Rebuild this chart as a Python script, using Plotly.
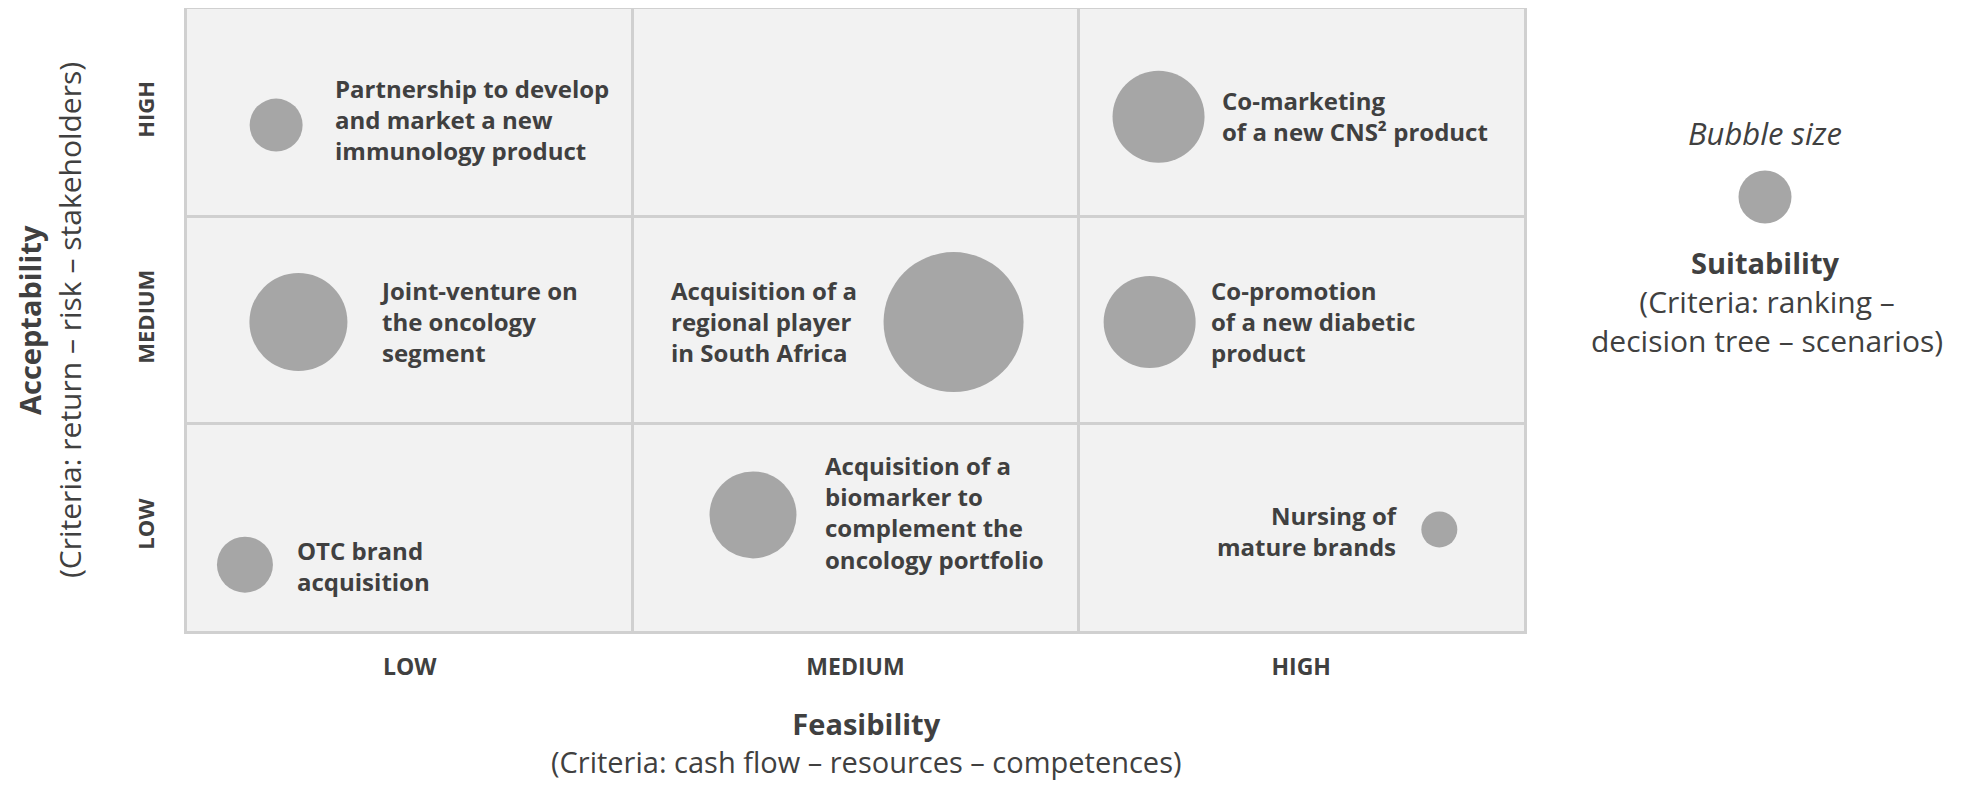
import plotly.graph_objects as go

# feasibility (x) / acceptability (y) on a 0-3 scale, bubble = suitability (diameter px)
projects = [
    "Partnership to develop<br>and market a new<br>immunology product",
    "Joint-venture on<br>the oncology<br>segment",
    "OTC brand<br>acquisition",
    "Acquisition of a<br>biomarker to<br>complement the<br>oncology portfolio",
    "Acquisition of a<br>regional player<br>in South Africa",
    "Co-marketing<br>of a new CNS² product",
    "Co-promotion<br>of a new diabetic<br>product",
    "Nursing of<br>mature brands",
]
feasibility = [0.20, 0.25, 0.13, 1.27, 1.72, 2.18, 2.16, 2.81]
acceptability = [2.44, 1.49, 0.32, 0.56, 1.49, 2.48, 1.49, 0.49]
suitability = [53, 98, 56, 87, 140, 92, 92, 36]

label_x = [0.328, 0.428, 0.243, 1.428, 1.082, 2.318, 2.294, 2.722]
label_y = [2.465, 1.495, 0.315, 0.57, 1.495, 2.485, 1.495, 0.48]
label_side = ["left", "left", "left", "left", "left", "left", "left", "right"]

levels = ["LOW", "MEDIUM", "HIGH"]
level_pos = [0.5, 1.5, 2.5]

legend_size = 53

FONT = "Open Sans, Noto Sans, sans-serif"
TEXT = "#404040"
BUBBLE = "#a6a6a6"
GRID = "#d0d0d0"

# page has an 8px body margin, so the figure is 16px smaller than the window
W, H = 1950, 774


def paper(px_x, px_y):
    # page pixel position -> paper fraction (margins are zero)
    return (px_x - 8) / W, (H + 8 - px_y) / H


fig = go.Figure()

# grid background
fig.add_shape(
    type="rect", x0=0, x1=3, y0=0, y1=3, xref="x", yref="y",
    fillcolor="#f2f2f2", line=dict(width=0), layer="below",
)

fig.add_trace(
    go.Scatter(
        x=feasibility,
        y=acceptability,
        mode="markers",
        marker=dict(
            size=suitability,
            sizemode="diameter",
            color=BUBBLE,
            opacity=1,
            line=dict(width=0),
        ),
        hovertext=[p.replace("<br>", " ") for p in projects],
        hoverinfo="text",
        showlegend=False,
    )
)

# legend bubble on the right, on its own small axes
fig.add_trace(
    go.Scatter(
        x=[0],
        y=[0],
        xaxis="x2",
        yaxis="y2",
        mode="markers",
        marker=dict(size=legend_size, color=BUBBLE, line=dict(width=0)),
        cliponaxis=False,
        hoverinfo="skip",
        showlegend=False,
    )
)

for txt, lx, ly, side in zip(projects, label_x, label_y, label_side):
    fig.add_annotation(
        x=lx, y=ly, xref="x", yref="y",
        text=txt, showarrow=False,
        xanchor=side, yanchor="middle", align=side,
        font=dict(family=FONT, size=24, color=TEXT, weight="bold"),
    )


def add_text(text, pos, size, bold=False, angle=0):
    x, y = paper(*pos)
    fig.add_annotation(
        x=x, y=y, xref="paper", yref="paper", text=text, showarrow=False,
        xanchor="center", yanchor="middle", align="center", textangle=angle,
        font=dict(family=FONT, size=size, color=TEXT, weight="bold" if bold else "normal"),
    )


# axis titles
add_text("<b>Feasibility</b><br>(Criteria: cash flow – resources – competences)", (866, 742), 29)
add_text("Acceptability", (29, 320), 29, bold=True, angle=-90)
add_text("(Criteria: return – risk – stakeholders)", (69, 320), 30, angle=-90)

# bubble size legend
add_text("<i>Bubble size</i>", (1765, 133), 31)
add_text("Suitability", (1765, 262), 29, bold=True)
add_text("(Criteria: ranking –<br>decision tree – scenarios)", (1767, 321), 30)

axis_common = dict(
    range=[0, 3],
    showgrid=False,
    zeroline=False,
    showline=True,
    mirror=True,
    linecolor=GRID,
    linewidth=2.5,
    ticks="",
    fixedrange=True,
    automargin=False,
    minor=dict(tickvals=[1, 2], showgrid=True, gridcolor=GRID, gridwidth=2.5, ticks=""),
    tickvals=level_pos,
    ticktext=levels,
)

x0, y_top = paper(187, 9)
x1, y_bot = paper(1524, 631)
lx, ly = paper(1765, 197)

fig.update_layout(
    xaxis=dict(
        **axis_common,
        domain=[x0, x1],
        tickfont=dict(family=FONT, size=23, color=TEXT, weight="bold"),
        ticklabelstandoff=14,
    ),
    yaxis=dict(
        **axis_common,
        domain=[y_bot, y_top],
        tickangle=-90,
        tickfont=dict(family=FONT, size=22, color=TEXT, weight="bold"),
        ticklabelstandoff=21,
    ),
    xaxis2=dict(domain=[lx - 30 / W, lx + 30 / W], range=[-1, 1], visible=False, anchor="y2", fixedrange=True),
    yaxis2=dict(domain=[ly - 30 / H, ly + 30 / H], range=[-1, 1], visible=False, anchor="x2", fixedrange=True),
    width=W,
    height=H,
    autosize=False,
    margin=dict(l=0, r=0, t=0, b=0),
    plot_bgcolor="white",
    paper_bgcolor="white",
    showlegend=False,
)

fig.write_html("out.html")
